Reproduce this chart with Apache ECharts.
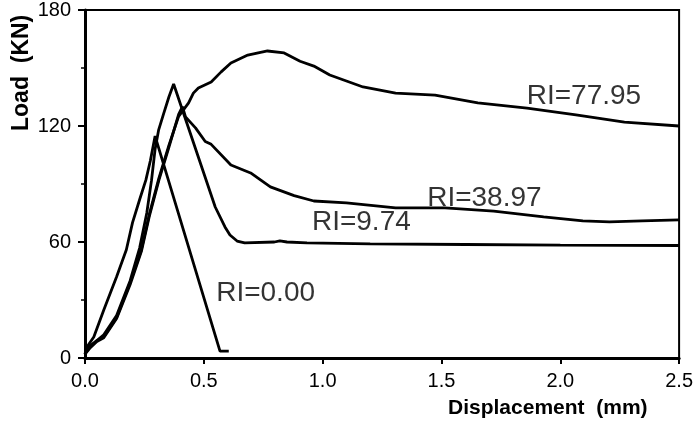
<!DOCTYPE html>
<html>
<head>
<meta charset="utf-8">
<script src="https://cdn.jsdelivr.net/npm/echarts@6/dist/echarts.min.js"></script>
<style>html,body{margin:0;padding:0;background:#fff}#c{width:696px;height:440px}</style>
</head>
<body>
<div id="c"></div>
<script>
// Displacement (mm), Load (kN) pairs
const seriesNames = ['RI=0.00', 'RI=9.74', 'RI=38.97', 'RI=77.95'];
const ri000 = [[0,2],[0.008,5.7],[0.037,10.9],[0.079,24.8],[0.133,42],[0.174,56],[0.2,70],[0.23,82],[0.256,92],[0.275,102],[0.295,114.8],[0.568,3.6],[0.605,3.6]];
const ri974 = [[0,2],[0.01,5],[0.04,8],[0.079,12],[0.133,22],[0.19,40],[0.23,57],[0.26,75],[0.28,92],[0.295,108],[0.31,118],[0.33,126],[0.353,135],[0.373,141.7],[0.548,78.1],[0.589,67.8],[0.61,63.6],[0.64,60.5],[0.672,59.5],[0.797,60],[0.82,60.6],[0.85,60],[0.934,59.5],[1.2,59],[1.6,58.7],[2.0,58.4],[2.5,58.2]];
const ri3897 = [[0,2],[0.02,5],[0.05,8.5],[0.079,10.5],[0.133,20.5],[0.19,38],[0.237,55],[0.27,73],[0.311,92],[0.353,109],[0.394,126],[0.41,130],[0.423,124.7],[0.465,119],[0.506,112],[0.531,110.5],[0.614,99.8],[0.697,95.7],[0.78,88.5],[0.88,84],[0.963,81.2],[1.1,80.2],[1.307,77.6],[1.515,77.6],[1.72,76],[1.93,73],[2.095,70.9],[2.207,70.4],[2.344,70.9],[2.5,71.4]];
const ri7795 = [[0,2],[0.02,6],[0.05,9],[0.079,11],[0.133,21],[0.19,39],[0.237,56],[0.27,74],[0.311,93],[0.353,110],[0.394,125],[0.436,132],[0.456,137],[0.477,139.7],[0.531,142.8],[0.573,148],[0.614,152.6],[0.685,156.7],[0.768,158.8],[0.838,157.8],[0.905,153.5],[0.963,151],[1.03,146.4],[1.17,140.2],[1.307,137],[1.473,136],[1.653,132],[1.86,129.3],[2.066,125.7],[2.27,122],[2.5,120]];
// curve annotations: [x, y, text] in data units (left edge, vertical centre)
const annotations = [[0.552,33.6,'RI=0.00'],[0.955,70.4,'RI=9.74'],[1.44,82.8,'RI=38.97'],[1.859,135.5,'RI=77.95']];
const xTicks = [0, 0.5, 1.0, 1.5, 2.0, 2.5];
const yTicks = [0, 60, 120, 180];

const font = 'Liberation Sans, Arial, sans-serif';
const chart = echarts.init(document.getElementById('c'), null, {renderer: 'canvas'});
const lineStyle = {color: '#000', width: 2.8};
const mk = (name, data) => ({
  name, type: 'line', data, showSymbol: false, symbol: 'none', smooth: false,
  lineStyle, animation: false, z: 3
});
chart.setOption({
  backgroundColor: '#fff',
  animation: false,
  grid: {left: 85, right: 9, top: 10, bottom: 82, show: true, borderColor: '#000', borderWidth: 2, containLabel: false},
  xAxis: {
    type: 'value', min: xTicks[0], max: xTicks[xTicks.length - 1], interval: 0.5,
    axisLine: {lineStyle: {color: '#000', width: 3}},
    axisTick: {show: true, length: 6, lineStyle: {color: '#000', width: 2}},
    axisLabel: {color: '#000', fontSize: 20, fontFamily: font, margin: 13, formatter: v => v.toFixed(1)},
    splitLine: {show: false}
  },
  yAxis: {
    type: 'value', min: yTicks[0], max: yTicks[yTicks.length - 1], interval: 60,
    axisLine: {show: true, lineStyle: {color: '#000', width: 3}},
    axisTick: {show: true, length: 7, lineStyle: {color: '#000', width: 2}},
    minorTick: {show: true, splitNumber: 2, length: 4, lineStyle: {color: '#000', width: 1.5}},
    axisLabel: {color: '#000', fontSize: 20, fontFamily: font, margin: 14},
    splitLine: {show: false}
  },
  series: [
    mk(seriesNames[0], ri000),
    mk(seriesNames[1], ri974),
    mk(seriesNames[2], ri3897),
    mk(seriesNames[3], ri7795),
    {
      type: 'scatter', data: annotations.map(a => ({value: [a[0], a[1]], name: a[2]})),
      symbolSize: 0, silent: true, z: 5,
      label: {show: true, position: 'right', distance: 0, formatter: p => p.name,
        color: '#000', fontSize: 28, fontFamily: font}
    }
  ],
  graphic: [
    {type: 'text', left: 448, top: 398, style: {text: 'Displacement  (mm)', font: 'bold 21px ' + font, fill: '#000'}},
    {type: 'text', rotation: Math.PI / 2, x: 10, y: 131, style: {text: 'Load  (KN)', font: 'bold 23px ' + font, fill: '#000'}}
  ]
});
</script>
</body>
</html>
